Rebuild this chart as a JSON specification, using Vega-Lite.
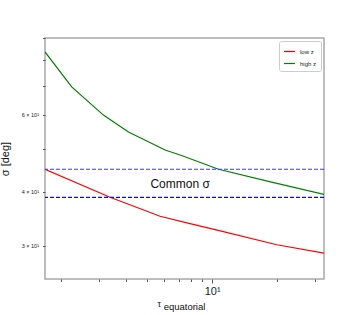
{
  "$schema": "https://vega.github.io/schema/vega-lite/v6.json",
  "autosize": {"type": "none"},
  "width": 279,
  "height": 241,
  "padding": {"left": 45, "top": 38, "right": 36, "bottom": 36},
  "background": "white",
  "config": {
    "font": "Liberation Sans",
    "view": {"stroke": "#a8a8a8", "strokeWidth": 1.5},
    "axis": {"grid": false, "domain": false, "tickColor": "#555", "labelColor": "#222", "titleColor": "#111", "labelFont": "Liberation Sans", "titleFont": "Liberation Sans", "titleFontWeight": "normal"}
  },
  "title": {"text": "equatorial", "orient": "bottom", "anchor": "middle", "frame": "group", "fontSize": 9.5, "fontWeight": "normal", "color": "#111", "offset": -6},
  "layer": [
    {
      "data": {"values": [
        {"tau": 1.686, "sigma": 83.6, "series": "high z"},
        {"tau": 2.24, "sigma": 69.5, "series": "high z"},
        {"tau": 3.14, "sigma": 59.9, "series": "high z"},
        {"tau": 4.1, "sigma": 54.8, "series": "high z"},
        {"tau": 6.06, "sigma": 49.8, "series": "high z"},
        {"tau": 7.11, "sigma": 48.5, "series": "high z"},
        {"tau": 10.7, "sigma": 45.0, "series": "high z"},
        {"tau": 18.6, "sigma": 42.1, "series": "high z"},
        {"tau": 32.9, "sigma": 39.4, "series": "high z"},
        {"tau": 1.686, "sigma": 45.0, "series": "low z"},
        {"tau": 3.37, "sigma": 38.8, "series": "low z"},
        {"tau": 5.74, "sigma": 35.1, "series": "low z"},
        {"tau": 7.64, "sigma": 33.9, "series": "low z"},
        {"tau": 10.9, "sigma": 32.5, "series": "low z"},
        {"tau": 19.9, "sigma": 30.2, "series": "low z"},
        {"tau": 32.9, "sigma": 28.9, "series": "low z"}
      ]},
      "mark": {"type": "line", "strokeWidth": 1.2, "clip": true},
      "encoding": {
        "x": {"field": "tau", "type": "quantitative",
          "scale": {"type": "log", "domain": [1.686, 32.9], "nice": false},
          "axis": {"values": [2, 3, 4, 5, 6, 7, 8, 9, 10, 20, 30],
            "labelExpr": "datum.value == 10 ? '10¹' : ''",
            "labelFontSize": 11, "labelPadding": 2,
            "tickSize": {"condition": {"test": "datum.value == 10", "value": 4}, "value": 2.5},
            "title": "τ", "titleFontSize": 9, "titleAlign": "left", "titleBaseline": "middle", "titleX": 112, "titleY": 24}},
        "y": {"field": "sigma", "type": "quantitative",
          "scale": {"type": "log", "domain": [25.2, 90], "nice": false},
          "axis": {"values": [30, 40, 50, 60, 70, 80, 90],
            "labelExpr": "datum.value == 30 ? '3 × 10¹' : datum.value == 40 ? '4 × 10¹' : datum.value == 60 ? '6 × 10¹' : ''",
            "labelFontSize": 5.5, "labelPadding": 4, "tickSize": 2.5,
            "title": "σ [deg]", "titleFontSize": 11, "titlePadding": 11}},
        "color": {"field": "series", "type": "nominal",
          "scale": {"domain": ["low z", "high z"], "range": ["#ff0000", "#008000"]},
          "legend": {"title": null, "orient": "top-right", "offset": 3, "symbolType": "stroke", "symbolSize": 120, "symbolStrokeWidth": 1.2, "labelFontSize": 6, "labelColor": "#222", "rowPadding": 2, "padding": 4, "strokeColor": "#cccccc", "fillColor": "white", "cornerRadius": 2}}
      }
    },
    {
      "data": {"values": [{"sigma": 45.0}]},
      "mark": {"type": "rule", "color": "#3a3aff", "strokeDash": [4, 2], "strokeWidth": 1.2},
      "encoding": {"y": {"field": "sigma", "type": "quantitative"}}
    },
    {
      "data": {"values": [{"sigma": 38.8}]},
      "mark": {"type": "rule", "color": "#1010c0", "strokeDash": [4, 2], "strokeWidth": 1.2},
      "encoding": {"y": {"field": "sigma", "type": "quantitative"}}
    },
    {
      "data": {"values": [{"tau": 7.11, "sigma": 41.6, "label": "Common σ"}]},
      "mark": {"type": "text", "fontSize": 12, "align": "center", "baseline": "middle", "color": "#111"},
      "encoding": {
        "x": {"field": "tau", "type": "quantitative"},
        "y": {"field": "sigma", "type": "quantitative"},
        "text": {"field": "label"}
      }
    }
  ]
}
